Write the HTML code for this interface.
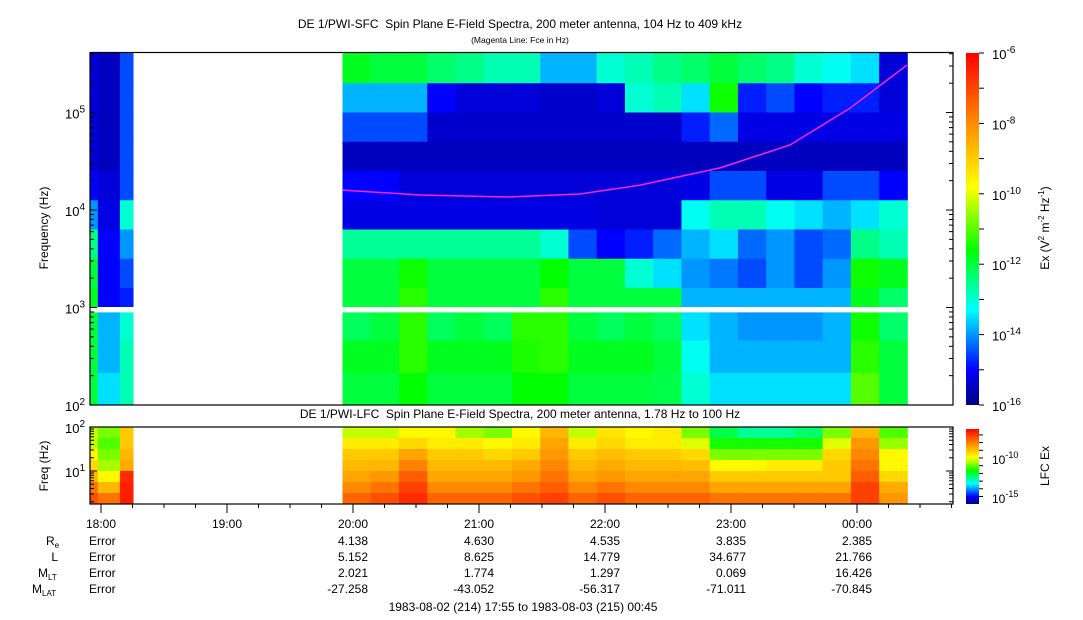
<!DOCTYPE html>
<html><head><meta charset="utf-8"><style>
html,body{margin:0;padding:0;background:#fff;}
svg{display:block;font-family:"Liberation Sans",sans-serif;}
text{white-space:pre;}
</style></head><body>
<svg id="chart" width="1083" height="620" viewBox="0 0 1083 620" xmlns="http://www.w3.org/2000/svg">
<defs>
<linearGradient id="jet" x1="0" y1="1" x2="0" y2="0">
<stop offset="0" stop-color="#00007f"/><stop offset="0.1" stop-color="#0000ff"/><stop offset="0.27" stop-color="#00ffff"/><stop offset="0.44" stop-color="#00ff00"/><stop offset="0.62" stop-color="#ffff00"/><stop offset="0.78" stop-color="#ff9900"/><stop offset="1" stop-color="#ff0000"/>
</linearGradient>
</defs>
<text x="520" y="28" font-size="12" text-anchor="middle" xml:space="preserve">DE 1/PWI-SFC  Spin Plane E-Field Spectra, 200 meter antenna, 104 Hz to 409 kHz</text>
<text x="520" y="43" font-size="8.5" text-anchor="middle">(Magenta Line: Fce in Hz)</text>
<text x="520" y="418" font-size="12" text-anchor="middle" xml:space="preserve">DE 1/PWI-LFC  Spin Plane E-Field Spectra, 200 meter antenna, 1.78 Hz to 100 Hz</text>
<g id="sfcCells"></g>
<g id="lfcCells"></g>
<rect x="90" y="307" width="863" height="5" fill="#fff"/>
<polyline id="fce" fill="none" stroke="#ff22dd" stroke-width="1.5"/>
<rect x="90" y="52.5" width="863" height="352.5" fill="none" stroke="#000" stroke-width="1.2"/>
<rect x="90" y="427" width="863" height="77" fill="none" stroke="#000" stroke-width="1.2"/>
<g id="axes" font-size="12"></g>
<text transform="translate(48,228) rotate(-90)" font-size="12" text-anchor="middle">Frequency (Hz)</text>
<text transform="translate(48,466) rotate(-90)" font-size="12" text-anchor="middle">Freq (Hz)</text>
<rect x="966" y="53" width="13" height="352" fill="url(#jet)"/>
<rect x="966" y="429" width="13" height="75" fill="url(#jet)"/>
<text transform="translate(1049,228) rotate(-90)" font-size="12" text-anchor="middle">Ex (V<tspan font-size="8" dy="-5">2</tspan><tspan dy="5"> m</tspan><tspan font-size="8" dy="-5">-2</tspan><tspan dy="5"> Hz</tspan><tspan font-size="8" dy="-5">-1</tspan><tspan dy="5">)</tspan></text>
<text transform="translate(1049,466) rotate(-90)" font-size="12" text-anchor="middle">LFC Ex</text>
<g id="eph" font-size="12"></g>
<text x="523" y="611" font-size="12" text-anchor="middle">1983-08-02 (214) 17:55 to 1983-08-03 (215) 00:45</text>
</svg>
<script>
// ---- data ----
const seg1Edges = [-5, -1.5, 9, 15.3];            // minutes since 18:00
const mainStart = 115, mainEnd = 384, mainCols = 20;
const sfcRowEdges = [5.61,5.3,5.0,4.7,4.4,4.1,3.8,3.5,3.2,3.0,2.95,2.66,2.33,2.0]; // log10 Hz (row 9 is gap)
const sfcSeg1 = [
 [-15.3,-15.5,-14.5],[-15.3,-15.5,-14.5],[-15.3,-15.5,-14.5],[-15.3,-15.5,-14.5],
 [-15,-15.3,-14.5],[-14,-15.2,-13],[-12.5,-15,-14],[-12,-15,-14.5],[-11.8,-15,-14.8],
 null,[-12,-13.8,-13],[-12,-13.8,-12.8],[-12,-13.5,-12.8]];
const sfcR0 = [-11.8,-12,-12,-12.3,-12.5,-12.8,-12.8,-13.8,-13.8,-13,-12.8,-12.5,-12.3,-12,-12.3,-12.5,-13,-13.2,-13.5,-15.3];
const sfcR1 = [-13.8,-13.8,-13.8,-15,-15.3,-15.3,-15.3,-15.4,-15.4,-15.3,-13,-12.8,-13.5,-11.5,-14.8,-14.5,-15,-14.8,-14.8,-15.3];
const sfcR2 = [-14.5,-14.5,-14.5,-15.4,-15.4,-15.4,-15.4,-15.4,-15.4,-15.4,-15.4,-15.4,-14.8,-14.3,-15.2,-15.2,-15.2,-15.2,-15.2,-15.2];
const sfcR3 = [-15.5,-15.5,-15.5,-15.5,-15.5,-15.5,-15.5,-15.5,-15.5,-15.5,-15.5,-15.5,-15.5,-15.5,-15.5,-15.5,-15.5,-15.5,-15.5,-15.5];
const sfcR4 = [-15,-15,-15.3,-15.3,-15.3,-15.3,-15.3,-15.3,-15.3,-15.3,-15.3,-15.3,-15.2,-14.5,-14.5,-15.2,-15.2,-14.5,-14.5,-15];
const sfcR5 = [-15.2,-15.2,-15.2,-15.2,-15.2,-15.2,-15.2,-15.2,-15.2,-15.3,-15.3,-15.3,-13.2,-12.8,-12.8,-13.2,-13.5,-13.8,-13.5,-13];
const sfcR6 = [-12.6,-12.6,-12.6,-12.6,-12.6,-12.6,-12.6,-13,-14.5,-15,-14.8,-14.3,-13.8,-13.5,-14.3,-14,-14.5,-14.3,-12.5,-12.8];
const sfcR7 = [-12,-12,-11.5,-12,-12,-12,-12,-11.6,-12,-12,-13,-13.5,-14,-14.2,-14.5,-14,-14.5,-14,-11.5,-11.8];
const sfcR8 = [-12,-12,-11.3,-12,-12,-12,-12,-11.3,-12,-12,-12,-12,-13.8,-13.8,-13.8,-13.8,-13.8,-13.8,-11.8,-12.3];
const sfcR10 = [-12.2,-12,-11.3,-12.2,-12,-12.2,-11.3,-11.3,-12,-12.2,-12,-12.2,-13.5,-13.8,-14,-14,-14,-13.8,-11.5,-12.3];
const sfcR11 = [-11.8,-11.8,-11.3,-11.8,-11.8,-11.8,-11.4,-11.3,-11.8,-11.8,-11.8,-12,-13.2,-13.8,-13.8,-13.8,-13.8,-13.8,-11.3,-12];
const sfcR12 = [-12,-12,-11.6,-12,-12,-12,-11.6,-11.6,-12,-12,-12,-12.1,-13,-13.5,-13.5,-13.5,-13.5,-13.5,-11,-12];
const sfcMain = [sfcR0,sfcR1,sfcR2,sfcR3,sfcR4,sfcR5,sfcR6,sfcR7,sfcR8,null,sfcR10,sfcR11,sfcR12];

const lfcRowEdges = [2.0,1.75,1.5,1.25,1.0,0.75,0.5,0.25];
const lfcSeg1 = [[-11,-11.5,-9.8],[-11,-11.8,-9.8],[-10.5,-11.5,-9.5],[-10,-11.2,-9.3],[-9.5,-10.5,-7.5],[-8.5,-9.5,-7.3],[-8,-8.5,-7.3]];
const lfcR0 = [-11,-11,-10.5,-10.5,-11.2,-11.5,-10.5,-9.5,-11,-10.2,-10.5,-10.3,-11.5,-12.8,-13.3,-13.3,-13,-11.5,-9.5,-11.8];
const lfcR1 = [-10.3,-10.3,-10,-10.3,-10.3,-10.5,-10.3,-9.2,-10.3,-10,-10.3,-10.3,-10.8,-12.2,-12.2,-12.2,-12.2,-10.8,-9,-11.3];
const lfcR2 = [-9.8,-9.8,-9.2,-9.8,-9.8,-10,-9.8,-9,-9.8,-9.6,-9.8,-9.8,-10,-11.5,-11.5,-11.5,-11.5,-10,-8.8,-10.5];
const lfcR3 = [-9.5,-9.5,-8.7,-9.5,-9.5,-9.5,-9.3,-8.8,-9.5,-9.3,-9.5,-9.5,-9.6,-10.5,-10.5,-10.3,-10.3,-9.8,-8.5,-10.5];
const lfcR4 = [-9.2,-9,-8.2,-9.2,-9.2,-9.2,-9,-8.5,-9.2,-9,-9.2,-9.2,-9.2,-9.8,-9.8,-9.8,-9.8,-9.8,-8.2,-10];
const lfcR5 = [-8.8,-8.5,-7.8,-8.8,-8.8,-8.8,-8.5,-8.2,-8.8,-8.5,-8.8,-8.8,-8.8,-9.2,-9.2,-9.2,-9.2,-9.2,-7.8,-9.3];
const lfcR6 = [-8.3,-8,-7.5,-8.3,-8.3,-8.3,-8,-7.8,-8.3,-8,-8.3,-8.3,-8.3,-8.5,-8.5,-8.5,-8.5,-8.5,-7.8,-9];
const lfcMain = [lfcR0,lfcR1,lfcR2,lfcR3,lfcR4,lfcR5,lfcR6];

const fceMinutes = [115.2,151.9,193.3,228.1,256.7,294.8,328.1,356.7,383.8];
const fceHz = [16000,14250,13600,14600,18000,27000,46400,111000,307000];

const hourLabels = ["18:00","19:00","20:00","21:00","22:00","23:00","00:00"];
const ephRowLabels = ["R","L","M","M"];
const ephRowSubs = ["e","","LT","LAT"];
const ephRe = ["Error","4.138","4.630","4.535","3.835","2.385"];
const ephL = ["Error","5.152","8.625","14.779","34.677","21.766"];
const ephMLT = ["Error","2.021","1.774","1.297","0.069","16.426"];
const ephMLAT = ["Error","-27.258","-43.052","-56.317","-71.011","-70.845"];

// ---- scales ----
const NS = "http://www.w3.org/2000/svg";
const xT = m => 101 + 126 * m / 60;
const ySfc = lf => 405 - (lf - 2) * 97.5;
const yLfc = lf => 504 - (lf - 0.25) * 44;
const stops = [[0,[0,0,127]],[0.1,[0,0,255]],[0.27,[0,255,255]],[0.44,[0,255,0]],[0.62,[255,255,0]],[0.78,[255,153,0]],[1,[255,0,0]]];
function cmap(t){t=Math.max(0,Math.min(1,t));for(let i=1;i<stops.length;i++){if(t<=stops[i][0]){const a=stops[i-1],b=stops[i],f=(t-a[0])/(b[0]-a[0]);return "rgb("+a[1].map((c,k)=>Math.round(c+(b[1][k]-c)*f)).join(",")+")";}}return "rgb(255,0,0)";}
const tSfc = v => (v + 16) / 10;
const tLfc = v => (v + 16.6) / 9.7;

function colEdges(){const e=[];for(let i=0;i<=mainCols;i++)e.push(mainStart+(mainEnd-mainStart)*i/mainCols);return e;}
const mainEdges = colEdges();

function drawGrid(g, rows, edges, rowEdges, yf, tf, name){
  rows.forEach((row, r) => {
    if (!row) return;
    row.forEach((v, c) => {
      const x0 = xT(edges[c]), x1 = xT(edges[c+1]);
      const y0 = yf(rowEdges[r]), y1 = yf(rowEdges[r+1]);
      const el = document.createElementNS(NS, "rect");
      
      
      el.setAttribute("x", x0.toFixed(2)); el.setAttribute("y", y0.toFixed(2));
      el.setAttribute("width", (x1 - x0 + 0.4).toFixed(2)); el.setAttribute("height", (y1 - y0 + 0.4).toFixed(2));
      el.setAttribute("fill", cmap(tf(v)));
      g.appendChild(el);
    });
  });
}
const sg = document.getElementById("sfcCells"), lg = document.getElementById("lfcCells");
drawGrid(sg, sfcSeg1, seg1Edges, sfcRowEdges, ySfc, tSfc, 'sfc-cell');
drawGrid(sg, sfcMain, mainEdges, sfcRowEdges, ySfc, tSfc, 'sfc-cell');
drawGrid(lg, lfcSeg1, seg1Edges, lfcRowEdges, yLfc, tLfc, 'lfc-cell');
drawGrid(lg, lfcMain, mainEdges, lfcRowEdges, yLfc, tLfc, 'lfc-cell');

document.getElementById("fce").setAttribute("points", fceMinutes.map((m,i)=>xT(m).toFixed(1)+","+ySfc(Math.log10(fceHz[i])).toFixed(1)).join(" "));

// ---- axes ----
const ax = document.getElementById("axes");
function line(x1,y1,x2,y2,name){const l=document.createElementNS(NS,"line");
 
 
 l.setAttribute("x1",x1);l.setAttribute("y1",y1);l.setAttribute("x2",x2);l.setAttribute("y2",y2);l.setAttribute("stroke","#000");l.setAttribute("stroke-width","1");ax.appendChild(l);}
function pow(x,y,base,exp,anchor,name,fs){const t=document.createElementNS(NS,"text");
 
 
 t.setAttribute("x",x);t.setAttribute("y",y);t.setAttribute("text-anchor",anchor);t.setAttribute("font-size",fs||13);
 t.innerHTML=base+'<tspan font-size="'+((fs||13)-3)+'" dy="-6">'+exp+'</tspan>';ax.appendChild(t);}
for(let d=2; d<=5; d++){for(let k=1;k<=9;k++){const lf=d+Math.log10(k);if(lf>5.612)break;const y=ySfc(lf);const L=k===1?7:4;
 line(90,y,90+L,y,'sfc-y-tick');line(953,y,953-L,y,'sfc-y-tick-right');}
 pow(85, ySfc(d)+6, "10", d, "end", 'sfc-y-tick-label');}
for(let d=0; d<=2; d++){for(let k=1;k<=9;k++){const lf=d+Math.log10(k);if(lf<0.25||lf>2.001)continue;const y=yLfc(lf);const L=k===1?7:4;
 line(90,y,90+L,y,'lfc-y-tick');line(953,y,953-L,y,'lfc-y-tick-right');}}
pow(85, yLfc(2)+6, "10", 2, "end", 'lfc-y-tick-label');
pow(85, yLfc(1)+6, "10", 1, "end", 'lfc-y-tick-label');
for(let e=-16;e<=-6;e++){const y=405-(e+16)*35.2;line(979,y,984,y,'sfc-colorbar-tick');
 if(e%2===0) pow(992,y+6,"10",e,"start",'sfc-colorbar-label');}
for(let e=-15;e<=-7;e++){const y=458-(e+10)*7.7;line(979,y,983,y,'lfc-colorbar-tick');}
pow(992,464,"10",-10,"start",'lfc-colorbar-label',12);
pow(992,503,"10",-15,"start",'lfc-colorbar-label',12);
for(let m=0;m<=405;m+=15){const x=xT(m);if(x>953)break;const major=m%60===0;line(x,504,x,major?513:508,'time-tick');}
hourLabels.forEach((h,i)=>{const t=document.createElementNS(NS,"text");
 
 
 t.setAttribute("x",xT(i*60));t.setAttribute("y",528);t.setAttribute("text-anchor","middle");t.textContent=h;ax.appendChild(t);});
const eph=document.getElementById("eph");
const ephRows=[ephRe,ephL,ephMLT,ephMLAT];
ephRows.forEach((vals,r)=>{const y=545+16*r;
 const lab=document.createElementNS(NS,"text");
 
 
 lab.setAttribute("x",58);lab.setAttribute("y",y);lab.setAttribute("text-anchor","end");
 lab.innerHTML=ephRowLabels[r]+(ephRowSubs[r]?'<tspan font-size="8" dy="3">'+ephRowSubs[r]+'</tspan>':'');
 if(ephRowSubs[r]){lab.setAttribute("text-anchor","start");lab.setAttribute("x",r===0?46:(r===2?38:32));}
 eph.appendChild(lab);
 vals.forEach((v,c)=>{const t=document.createElementNS(NS,"text");
  
  
  if(c===0){t.setAttribute("x",89);t.setAttribute("text-anchor","start");}
  else{t.setAttribute("x",xT((c+1)*60)+15);t.setAttribute("text-anchor","end");}
  t.setAttribute("y",y);t.textContent=v;eph.appendChild(t);});
});
</script>
</body></html>
